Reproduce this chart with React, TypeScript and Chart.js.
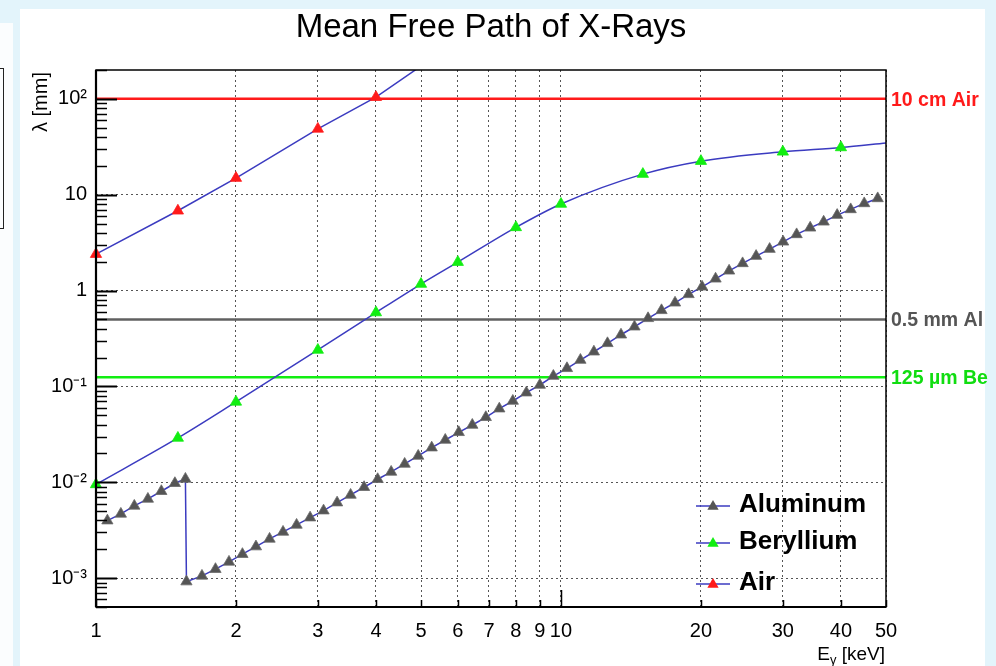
import React, { useEffect, useRef } from 'react';
import { Chart, registerables } from 'chart.js';

Chart.register(...registerables);

// ---------- data ----------
const alEnergy = [
  1.058, 1.131, 1.209, 1.293, 1.382, 1.478, 1.557, 1.565,
  1.690, 1.807, 1.932, 2.065, 2.208, 2.362, 2.525, 2.700, 2.887, 3.086,
  3.300, 3.528, 3.772, 4.034, 4.313, 4.611, 4.931, 5.272, 5.638, 6.028,
  6.446, 6.892, 7.368, 7.878, 8.424, 9.006, 9.630, 10.30, 11.01, 11.77,
  12.59, 13.46, 14.39, 15.39, 16.45, 17.59, 18.81, 20.11, 21.50, 22.99,
  24.58, 26.28, 28.10, 30.04, 32.12, 34.35, 36.72, 39.26, 41.98, 44.89, 47.99,
];
const alPath = [
  0.00398, 0.00468, 0.00567, 0.0067, 0.00806, 0.00977, 0.01083, 0.00092,
  0.001056, 0.00124, 0.001478, 0.001778, 0.002133, 0.002566, 0.003035, 0.003589, 0.004277, 0.005058,
  0.006133, 0.007379, 0.008877, 0.01075, 0.01282, 0.01553, 0.01882, 0.02297, 0.02762, 0.03322,
  0.0396, 0.04766, 0.05859, 0.07047, 0.08603, 0.1035, 0.1284, 0.1545, 0.1886, 0.2301,
  0.2815, 0.3461, 0.4195, 0.5131, 0.6217, 0.7459, 0.9128, 1.095, 1.327, 1.608,
  1.921, 2.289, 2.708, 3.227, 3.854, 4.516, 5.216, 6.125, 7.023, 8.11, 9.147,
];
const beEnergy = [1, 1.5, 2, 3, 4, 5, 6, 8, 10, 15, 20, 30, 40, 50];
const bePath = [0.0095, 0.029, 0.069, 0.24, 0.59, 1.17, 1.98, 4.56, 8.0, 16.4, 22.4, 28.0, 31.1, 34.7];
const airEnergy = [1, 1.5, 2, 3, 4, 5];
const airPath = [2.4, 6.8, 14.9, 48.6, 104, 220];

const seriesNames = ['Aluminum', 'Beryllium', 'Air'];
const seriesMarkerColors = ['#555555', '#11ee11', '#ff1a1a'];

const refLabels = ['10 cm Air', '0.5 mm Al', '125 µm Be'];
const refValues = [100, 0.5, 0.125];
const refColors = ['#ff1a1a', '#606060', '#11ee11'];
const refTextColors = ['#ff1a1a', '#555555', '#11dd11'];

const xTicks = [1, 2, 3, 4, 5, 6, 7, 8, 9, 10, 20, 30, 40, 50];
const xTickLabels = ['1', '2', '3', '4', '5', '6', '7', '8', '9', '10', '20', '30', '40', '50'];
const yTicks = [0.001, 0.01, 0.1, 1, 10, 100];
const yTickLabels = ['10⁻³', '10⁻²', '10⁻¹', '1', '10', '10²'];

const chartTitle = 'Mean Free Path of X-Rays';
const yTitle = 'λ [mm]';

const FONT = '"Liberation Sans", Arial, Helvetica, sans-serif';
const LINE_BLUE = '#3b3bc0';
const MARKER_R = 6.5;

const overlayPlugin = {
  id: 'overlay',
  afterDraw(chart: any) {
    const { ctx, chartArea: a, scales } = chart;
    const xs = scales.x;
    const ys = scales.y;
    ctx.save();
    const line = (x1: number, y1: number, x2: number, y2: number) => {
      ctx.beginPath();
      ctx.moveTo(x1, y1);
      ctx.lineTo(x2, y2);
      ctx.stroke();
    };
    // inward tick marks
    ctx.strokeStyle = '#000';
    for (let d = -4; d <= 2; d++) {
      for (let m = 1; m <= 9; m++) {
        const v = m * Math.pow(10, d);
        if (v < ys.min || v > ys.max) continue;
        const py = Math.round(ys.getPixelForValue(v)) + 0.5;
        ctx.lineWidth = m === 1 ? 2 : 1.5;
        line(a.left, py, a.left + (m === 1 ? 21 : 11), py);
      }
    }
    ctx.lineWidth = 1.5;
    for (const v of xTicks) {
      const px = Math.round(xs.getPixelForValue(v)) + 0.5;
      line(px, a.bottom, px, a.bottom - (v === 10 ? 17 : 7));
    }
    // frame
    ctx.lineWidth = 1.5;
    ctx.strokeRect(a.left, a.top, a.right - a.left, a.bottom - a.top);
    ctx.lineWidth = 2.2;
    line(a.left, a.top, a.left, a.bottom);
    line(a.left, a.bottom, a.right, a.bottom);

    // reference labels
    ctx.font = `bold 19.5px ${FONT}`;
    ctx.textAlign = 'left';
    ctx.textBaseline = 'middle';
    refLabels.forEach((lab, i) => {
      ctx.fillStyle = refTextColors[i];
      ctx.fillText(lab, a.right + 5, ys.getPixelForValue(refValues[i]) + 1.5);
    });

    // title
    ctx.fillStyle = '#000';
    ctx.font = `33px ${FONT}`;
    ctx.textAlign = 'center';
    ctx.textBaseline = 'alphabetic';
    ctx.fillText(chartTitle, (a.left + a.right) / 2, 37);

    // x title  E_γ [keV]
    ctx.textAlign = 'left';
    ctx.font = `19px ${FONT}`;
    const wE = ctx.measureText('E').width;
    const wRest = ctx.measureText(' [keV]').width;
    ctx.font = `13px ${FONT}`;
    const wG = ctx.measureText('γ').width;
    let tx = a.right - 1 - (wE + wG + wRest);
    const ty = 660;
    ctx.font = `19px ${FONT}`;
    ctx.fillText('E', tx, ty);
    tx += wE;
    ctx.font = `13px ${FONT}`;
    ctx.fillText('γ', tx, ty + 4);
    tx += wG;
    ctx.font = `19px ${FONT}`;
    ctx.fillText(' [keV]', tx, ty);

    // y title
    ctx.save();
    ctx.translate(41, a.top);
    ctx.rotate(-Math.PI / 2);
    ctx.font = `20px ${FONT}`;
    ctx.textAlign = 'right';
    ctx.textBaseline = 'middle';
    ctx.fillText(yTitle, -2, 0);
    ctx.restore();

    // legend
    const rowOffsets = [102, 65, 24];
    seriesNames.forEach((name, i) => {
      const yRow = a.bottom - rowOffsets[i];
      ctx.strokeStyle = LINE_BLUE;
      ctx.lineWidth = 1.5;
      line(a.right - 190, yRow + 1, a.right - 156, yRow + 1);
      const cx = a.right - 173;
      const cy = yRow + 1.5;
      const r = MARKER_R;
      ctx.beginPath();
      ctx.moveTo(cx, cy - r);
      ctx.lineTo(cx + r * Math.sin((2 * Math.PI) / 3), cy - r * Math.cos((2 * Math.PI) / 3));
      ctx.lineTo(cx + r * Math.sin((4 * Math.PI) / 3), cy - r * Math.cos((4 * Math.PI) / 3));
      ctx.closePath();
      ctx.fillStyle = seriesMarkerColors[i];
      ctx.fill();
      ctx.fillStyle = '#000';
      ctx.font = `bold 26px ${FONT}`;
      ctx.textAlign = 'left';
      ctx.textBaseline = 'middle';
      ctx.fillText(name, a.right - 147, yRow);
    });
    ctx.restore();
  },
};

function toPoints(xsArr: number[], ysArr: number[]) {
  return xsArr.map((x, i) => ({ x, y: ysArr[i] }));
}

export default function App() {
  const canvasRef = useRef<HTMLCanvasElement | null>(null);

  useEffect(() => {
    if (!canvasRef.current) return;
    const clip = { left: 14, top: 0, right: 14, bottom: 14 };
    const seriesCommon = {
      showLine: true,
      borderColor: LINE_BLUE,
      borderWidth: 1.5,
      pointStyle: 'triangle',
      pointBorderWidth: 0.8,
      clip,
    };
    const refDatasets = refValues.map((v, i) => ({
      label: refLabels[i],
      data: [
        { x: xTicks[0], y: v },
        { x: xTicks[xTicks.length - 1], y: v },
      ],
      showLine: true,
      borderColor: refColors[i],
      borderWidth: 2.5,
      pointRadius: 0,
      clip,
    }));
    const chart = new Chart(canvasRef.current, {
      type: 'scatter',
      data: {
        datasets: [
          {
            ...seriesCommon,
            label: seriesNames[0],
            data: toPoints(alEnergy, alPath),
            pointRadius: MARKER_R,
            pointBackgroundColor: seriesMarkerColors[0],
            pointBorderColor: '#6a6a6a',
          },
          {
            ...seriesCommon,
            label: seriesNames[1],
            data: toPoints(beEnergy, bePath),
            cubicInterpolationMode: 'monotone',
            pointRadius: beEnergy.map((_, i) => (i === beEnergy.length - 1 ? 0 : MARKER_R)),
            pointBackgroundColor: seriesMarkerColors[1],
            pointBorderColor: seriesMarkerColors[1],
          },
          {
            ...seriesCommon,
            label: seriesNames[2],
            data: toPoints(airEnergy, airPath),
            pointRadius: MARKER_R,
            pointBackgroundColor: seriesMarkerColors[2],
            pointBorderColor: seriesMarkerColors[2],
          },
          ...refDatasets,
        ] as any,
      },
      options: {
        responsive: false,
        animation: false,
        events: [],
        layout: { padding: { left: 29, right: 110, top: 70, bottom: 0 } },
        plugins: {
          legend: { display: false },
          tooltip: { enabled: false },
          title: { display: false },
        },
        scales: {
          x: {
            type: 'logarithmic',
            min: 1,
            max: 50,
            afterBuildTicks: (s: any) => {
              s.ticks = xTicks.map((v) => ({ value: v }));
            },
            afterFit: (s: any) => {
              s.height = 59;
            },
            ticks: {
              autoSkip: false,
              maxRotation: 0,
              padding: 12,
              color: '#000',
              font: { family: FONT, size: 20 },
              callback: (v: any) => {
                const i = xTicks.indexOf(Number(v));
                return i >= 0 ? xTickLabels[i] : '';
              },
            },
            grid: { color: '#555', lineWidth: 1, drawTicks: false },
            border: { display: false, dash: [2, 3] },
          },
          y: {
            type: 'logarithmic',
            min: 0.0005,
            max: 200,
            afterBuildTicks: (s: any) => {
              s.ticks = yTicks.map((v) => ({ value: v }));
            },
            afterFit: (s: any) => {
              s.width = 67;
            },
            ticks: {
              autoSkip: false,
              padding: 9,
              color: '#000',
              font: { family: FONT, size: 20 },
              callback: (v: any) => {
                const n = Number(v);
                const i = yTicks.findIndex((t) => Math.abs(t - n) / t < 1e-6);
                return i >= 0 ? yTickLabels[i] : '';
              },
            },
            grid: { color: '#555', lineWidth: 1, drawTicks: false },
            border: { display: false, dash: [2, 3] },
          },
        },
      } as any,
      plugins: [overlayPlugin as any],
    });
    return () => chart.destroy();
  }, []);

  return (
    <div style={{ position: 'fixed', left: 0, top: 0, width: 996, height: 666, background: '#e3f4fb', overflow: 'hidden' }}>
      <div style={{ position: 'absolute', left: 0, top: 23, width: 13, height: 643, background: '#fbfdfe' }} />
      <div
        style={{
          position: 'absolute',
          left: -10,
          top: 68,
          width: 14,
          height: 161,
          border: '1.5px solid #222',
          boxSizing: 'border-box',
        }}
      />
      <div style={{ position: 'absolute', left: 20, top: 9, width: 965, height: 657, background: '#ffffff' }} />
      <canvas ref={canvasRef} width={996} height={666} style={{ position: 'absolute', left: 0, top: 0, width: 996, height: 666 }} />
    </div>
  );
}
